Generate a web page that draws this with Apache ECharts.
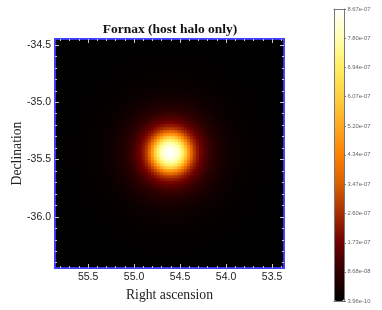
<!DOCTYPE html>
<html><head><meta charset="utf-8">
<style>html,body{margin:0;padding:0;background:#fff}#c{width:382px;height:310px}</style>
<script src="https://cdn.jsdelivr.net/npm/echarts@6/dist/echarts.min.js"></script>
</head><body><div id="c"></div>
<script>
const titleText = 'Fornax (host halo only)';
const xName = 'Right ascension';
const yName = 'Declination';
const raRange = [53.37, 55.86];
const decRange = [-36.446, -34.448];
const raLabels = [55.5, 55.0, 54.5, 54.0, 53.5];
const decLabels = [-34.5, -35.0, -35.5, -36.0];
const raMinor = [55.8,55.7,55.6,55.4,55.3,55.2,55.1,54.9,54.8,54.7,54.6,54.4,54.3,54.2,54.1,53.9,53.8,53.7,53.6,53.4];
const decMinor = [-34.6,-34.7,-34.8,-34.9,-35.1,-35.2,-35.3,-35.4,-35.6,-35.7,-35.8,-35.9,-36.1,-36.2,-36.3,-36.4];
const colorbarTicks = [3.96e-10,8.68e-8,1.73e-7,2.60e-7,3.47e-7,4.34e-7,5.20e-7,6.07e-7,6.94e-7,7.80e-7,8.67e-7];
const colorStops = ['#000000','#300000','#700000','#a82c00','#d86000','#ff8000','#ffa820','#ffd040','#ffee60','#ffffb0','#ffffff'];
const cellsPerSide = 76;
const centreCell = 38;
const backgroundLevel = 2;
// Faint outer glow (units of 1e-9), by distance in cells starting 22 cells from the peak.
const outerGlow = [19,17,14,12,11,10,9,8,7,6,6,5,5,4,4,3,3];
// Brightness (units of 1e-9) read outward from the peak, one quadrant; the halo is symmetric.
const quadrant = [
[867,858,832,789,720,616,494,373,286,225,182,147,121,100,82,69,56,48,39,33,28,23],
[858,847,822,778,708,604,484,367,282,222,180,146,120,99,82,68,56,47,39,33,28,23],
[832,822,797,748,671,568,455,348,271,215,175,142,117,97,80,67,55,47,38,32,27,23],
[789,778,748,695,616,515,408,319,253,203,167,137,113,94,78,65,54,46,38,32,27,22],
[720,708,671,616,536,446,355,282,229,189,155,129,107,89,75,62,52,44,37,31,26,22],
[616,604,568,515,446,367,303,249,207,172,142,119,100,83,71,58,50,42,35,30,25,21],
[494,484,455,408,355,303,256,215,182,153,130,110,92,78,66,54,47,39,33,28,24,20],
[373,367,348,319,282,249,215,189,160,137,116,99,84,72,60,52,44,37,31,27,22,19],
[286,282,271,253,229,207,182,160,139,120,104,89,76,66,55,48,40,34,30,25,21,18],
[225,222,215,203,189,172,153,137,120,106,92,79,69,58,51,44,37,32,27,23,19,17],
[182,180,175,167,155,142,130,116,104,92,80,71,60,53,46,39,34,30,25,21,18,16],
[147,146,142,137,129,119,110,99,89,79,71,62,54,48,41,35,31,27,23,19,17,15],
[121,120,117,113,107,100,92,84,76,69,60,54,48,42,37,32,28,24,20,18,16,14],
[100,99,97,94,89,83,78,72,66,58,53,48,42,37,32,29,25,22,19,17,15,13],
[82,82,80,78,75,71,66,60,55,51,46,41,37,32,29,26,22,19,17,15,13,12],
[69,68,67,65,62,58,54,52,48,44,39,35,32,29,26,22,19,18,16,14,12,11],
[56,56,55,54,52,50,47,44,40,37,34,31,28,25,22,19,18,16,14,12,11,10],
[48,47,47,46,44,42,39,37,34,32,30,27,24,22,19,18,16,14,13,11,10,10],
[39,39,38,38,37,35,33,31,30,27,25,23,20,19,17,16,14,13,11,10,10,9],
[33,33,32,32,31,30,28,27,25,23,21,19,18,17,15,14,12,11,10,10,9,9],
[28,28,27,27,26,25,24,22,21,19,18,17,16,15,13,12,11,10,10,9,9,8],
[23,23,23,22,22,21,20,19,18,17,16,15,14,13,12,11,10,10,9,9,8,7]
];

const cells = [];
for (let y = 0; y < cellsPerSide; y++) {
  for (let x = 0; x < cellsPerSide; x++) {
    const dx = Math.abs(x - centreCell), dy = Math.abs(y - centreCell);
    const row = quadrant[dy];
    let level = row ? row[dx] : undefined;
    if (level === undefined) {
      const glow = outerGlow[Math.round(Math.hypot(dx, dy)) - quadrant.length];
      level = glow === undefined ? backgroundLevel : glow;
    }
    cells.push([x, y, level * 1e-9]);
  }
}
const index = [...Array(cellsPerSide).keys()];
const sans = '"Liberation Sans", Arial, sans-serif';
const serif = '"Liberation Serif", "Times New Roman", serif';
const frame = '#3a3aff';
const tickCol = '#c8c8c8';

function spatial(position, range, vals, len, labelled, inverse) {
  return {
    type: 'value', gridIndex: 2, position, min: range[0], max: range[1], inverse, z: 5,
    axisLine: { show: true, onZero: false, lineStyle: { color: frame, width: 1.5 } },
    axisTick: { show: true, inside: true, length: len, customValues: vals, lineStyle: { color: tickCol, width: 1 } },
    axisLabel: labelled
      ? { show: true, customValues: vals, color: '#222', fontFamily: sans, fontSize: 10.5, margin: 4,
          formatter: v => Number(v).toFixed(1) }
      : { show: false },
    splitLine: { show: false }
  };
}
function barEdge(position) {
  return {
    type: 'value', gridIndex: 1, position, min: 0, max: 1, z: 6,
    axisLine: { show: true, onZero: false, lineStyle: { color: '#777', width: 1 } },
    axisTick: { show: false }, axisLabel: { show: false }, splitLine: { show: false }
  };
}
const fmtBar = v => {
  const [m, e] = Number(v).toExponential(2).split('e');
  const n = Math.abs(+e);
  return m + 'e' + (+e < 0 ? '-' : '+') + (n < 10 ? '0' + n : n);
};

const chart = echarts.init(document.getElementById('c'), null, { renderer: 'canvas' });
chart.setOption({
  animation: false,
  backgroundColor: '#fff',
  title: {
    text: titleText, left: 170, top: 23, textAlign: 'center', padding: 0,
    textStyle: { fontFamily: serif, fontWeight: 'bold', fontSize: 13.5, color: '#111' }
  },
  grid: [
    { left: 55, top: 40, width: 228, height: 228, containLabel: false, outerBoundsMode: 'none' },
    { left: 334, top: 9, width: 10, height: 292, containLabel: false, outerBoundsMode: 'none' },
    { left: 55, top: 39, width: 229, height: 229, containLabel: false, outerBoundsMode: 'none',
      show: true, backgroundColor: '#000', borderWidth: 0, z: 0 }
  ],
  xAxis: [
    { type: 'category', gridIndex: 0, data: index, show: false },
    Object.assign(spatial('bottom', raRange, raLabels, 4, true, true), {
      name: xName, nameLocation: 'middle', nameGap: 18,
      nameTextStyle: { fontFamily: serif, fontSize: 13.7, color: '#222' }
    }),
    spatial('bottom', raRange, raMinor, 2, false, true),
    spatial('top', raRange, raLabels, 4, false, true),
    spatial('top', raRange, raMinor, 2, false, true),
    barEdge('bottom'),
    barEdge('top')
  ],
  yAxis: [
    { type: 'category', gridIndex: 0, data: index, show: false },
    Object.assign(spatial('left', decRange, decLabels, 4, true, false), {
      name: yName, nameLocation: 'middle', nameGap: 31, nameMoveOverlap: false,
      nameTextStyle: { fontFamily: serif, fontSize: 13.7, color: '#222' }
    }),
    spatial('left', decRange, decMinor, 2, false, false),
    spatial('right', decRange, decLabels, 4, false, false),
    spatial('right', decRange, decMinor, 2, false, false),
    {
      type: 'value', gridIndex: 1, position: 'right', min: colorbarTicks[0], max: colorbarTicks[10], z: 6,
      axisLine: { show: true, onZero: false, lineStyle: { color: '#777', width: 1 } },
      axisTick: { show: true, length: 2, customValues: colorbarTicks, lineStyle: { color: '#777' } },
      axisLabel: { show: true, customValues: colorbarTicks, formatter: fmtBar, color: '#666',
        fontFamily: sans, fontSize: 5.8, margin: 3.5 },
      splitLine: { show: false }
    },
    barEdge('left')
  ],
  visualMap: {
    type: 'continuous', seriesIndex: 0, min: colorbarTicks[0], max: colorbarTicks[10],
    left: 334, top: 9, itemWidth: 10, itemHeight: 292, padding: 0,
    calculable: false, realtime: false, hoverLink: false, text: null, showLabel: false,
    inRange: { color: colorStops },
    textStyle: { fontSize: 1, color: 'transparent' },
    formatter: () => ''
  },
  series: [{
    type: 'heatmap', xAxisIndex: 0, yAxisIndex: 0, data: cells, progressive: 0,
    silent: true, itemStyle: { borderWidth: 0 }, emphasis: { disabled: true }
  }]
});
</script></body></html>
